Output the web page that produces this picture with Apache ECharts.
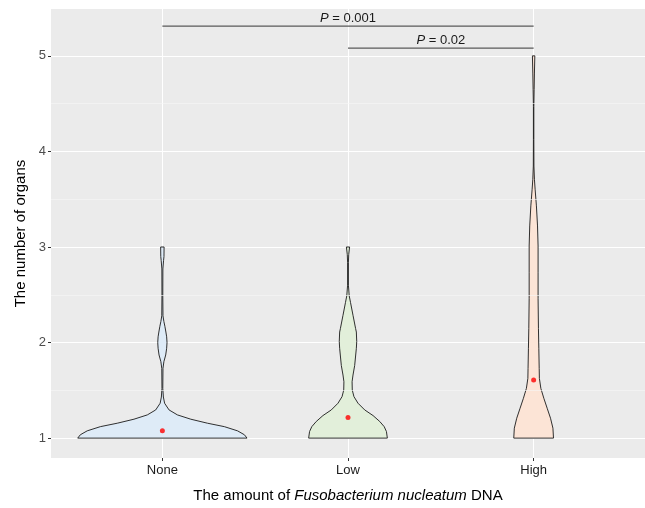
<!DOCTYPE html>
<html>
<head>
<meta charset="utf-8">
<script src="https://cdn.jsdelivr.net/npm/echarts@6/dist/echarts.min.js"></script>
<style>
  html, body { margin: 0; padding: 0; background: #fff; overflow: hidden; }
  #main { width: 645px; height: 508px; }
</style>
</head>
<body>
<div id="main"></div>
<script>
// groups on the x axis
const groups = ['None', 'Low', 'High']
const groupPos = [1, 2, 3]
const groupFill = ['#deebf7', '#e2efda', '#fce4d6']

// violin outlines: y value and half width (in x units)
const noneY = [1.0, 1.035, 1.076, 1.12, 1.156, 1.198, 1.243, 1.295, 1.365, 1.43, 1.52, 1.73, 1.80, 1.87, 1.94, 2.0, 2.06, 2.11, 2.17, 2.22, 2.28, 2.49, 2.77, 2.86, 2.9, 3.0]
const noneW = [0.456, 0.442, 0.405, 0.334, 0.243, 0.153, 0.081, 0.036, 0.012, 0.0054, 0.0022, 0.0032, 0.0081, 0.018, 0.023, 0.025, 0.023, 0.019, 0.0135, 0.0081, 0.0032, 0.0022, 0.0027, 0.0065, 0.0086, 0.0092]
const lowY = [1.0, 1.069, 1.12, 1.174, 1.236, 1.295, 1.365, 1.434, 1.503, 1.59, 1.66, 1.76, 1.94, 2.01, 2.11, 2.146, 2.285, 2.42, 2.49, 2.6, 2.84, 2.92, 3.0]
const lowW = [0.212, 0.207, 0.195, 0.171, 0.135, 0.090, 0.054, 0.032, 0.023, 0.022, 0.027, 0.036, 0.045, 0.047, 0.045, 0.041, 0.027, 0.0135, 0.0065, 0.0022, 0.0022, 0.0038, 0.0086]
const highY = [1.0, 1.104, 1.208, 1.3125, 1.417, 1.52, 1.625, 1.73, 1.94, 2.146, 2.458, 2.736, 3.01, 3.22, 3.43, 3.604, 3.708, 3.847, 4.125, 4.47, 4.646, 4.82, 5.0]
const highW = [0.107, 0.104, 0.091, 0.073, 0.055, 0.039, 0.031, 0.030, 0.028, 0.026, 0.024, 0.024, 0.024, 0.021, 0.015, 0.008, 0.0043, 0.0016, 0.0011, 0.0011, 0.0027, 0.0043, 0.0065]

// group means (red dots)
const groupMean = [1.076, 1.215, 1.607]

// significance brackets
const bracketFrom = [1, 2]
const bracketTo = [3, 3]
const bracketY = [5.31, 5.08]
const bracketP = ['0.001', '0.02']

const yTicks = [1, 2, 3, 4, 5]
const yMinor = [1.5, 2.5, 3.5, 4.5]

const violinY = [noneY, lowY, highY]
const violinW = [noneW, lowW, highW]

const font = 'Liberation Sans, Arial, sans-serif'

const option = {
  backgroundColor: '#fff',
  animation: false,
  grid: {
    left: 51,
    width: 598,
    top: 9,
    bottom: 48,
    show: true,
    backgroundColor: '#ebebeb',
    borderWidth: 0
  },
  xAxis: {
    type: 'value',
    min: 0.4,
    max: 3.6,
    name: 'The amount of {i|Fusobacterium nucleatum} DNA',
    nameLocation: 'middle',
    nameGap: 30,
    nameTextStyle: {
      fontFamily: font,
      fontSize: 15,
      color: '#000',
      rich: {
        i: { fontFamily: font, fontSize: 15, color: '#000', fontStyle: 'italic' }
      }
    },
    axisLine: { show: false },
    axisTick: {
      show: true,
      length: 3,
      customValues: groupPos,
      lineStyle: { color: '#333', width: 1 }
    },
    axisLabel: {
      customValues: groupPos,
      margin: 6,
      fontFamily: font,
      fontSize: 13,
      color: '#1a1a1a',
      formatter: (v) => groups[Math.round(v) - 1]
    },
    splitLine: { show: true, lineStyle: { color: '#fff', width: 1 } }
  },
  yAxis: {
    type: 'value',
    min: 0.792,
    max: 5.49,
    name: 'The number of organs',
    nameLocation: 'middle',
    nameGap: 22,
    nameTextStyle: { fontFamily: font, fontSize: 15, color: '#000' },
    axisLine: { show: false },
    axisTick: {
      show: true,
      length: 3,
      customValues: yTicks,
      lineStyle: { color: '#333', width: 1 }
    },
    axisLabel: {
      customValues: yTicks,
      margin: 5,
      fontFamily: font,
      fontSize: 13,
      color: '#4d4d4d'
    },
    splitLine: { show: true, lineStyle: { color: '#fff', width: 1.1 } }
  },
  series: [
    {
      // minor grid lines
      type: 'line',
      data: [],
      silent: true,
      z: 1,
      markLine: {
        silent: true,
        symbol: 'none',
        label: { show: false },
        lineStyle: { color: '#f7f7f7', width: 0.6, type: 'solid' },
        data: yMinor.map(v => ({ yAxis: v }))
      }
    },
    {
      type: 'custom',
      z: 2,
      data: groupPos.map((x, i) => [x, violinY[i][0]]),
      encode: { x: 0, y: 1 },
      renderItem: (params, api) => {
        const i = params.dataIndex
        const x = api.value(0)
        const ys = violinY[i]
        const ws = violinW[i]
        const pts = []
        for (let k = 0; k < ys.length; k++) pts.push(api.coord([x + ws[k], ys[k]]))
        for (let k = ys.length - 1; k >= 0; k--) pts.push(api.coord([x - ws[k], ys[k]]))
        return {
          type: 'polygon',
          shape: { points: pts },
          style: { fill: groupFill[i], stroke: '#1a1a1a', lineWidth: 0.9 }
        }
      }
    },
    {
      type: 'scatter',
      z: 3,
      symbolSize: 5,
      itemStyle: { color: '#ff0000' },
      data: groupPos.map((x, i) => [x, groupMean[i]])
    },
    {
      type: 'custom',
      z: 4,
      data: bracketY.map((y, i) => [bracketFrom[i], y]),
      encode: { x: 0, y: 1 },
      renderItem: (params, api) => {
        const i = params.dataIndex
        const a = api.coord([bracketFrom[i], bracketY[i]])
        const b = api.coord([bracketTo[i], bracketY[i]])
        return {
          type: 'group',
          children: [
            {
              type: 'line',
              shape: { x1: a[0], y1: a[1], x2: b[0], y2: b[1] },
              style: { stroke: '#5a5a5a', lineWidth: 1.2 }
            },
            {
              type: 'text',
              x: (a[0] + b[0]) / 2,
              y: a[1] - 1,
              style: {
                text: '{i|P} = ' + bracketP[i],
                align: 'center',
                verticalAlign: 'bottom',
                fontFamily: font,
                fontSize: 13,
                fill: '#1a1a1a',
                rich: {
                  i: { fontFamily: font, fontSize: 13, fontStyle: 'italic', fill: '#1a1a1a' }
                }
              }
            }
          ]
        }
      }
    }
  ]
}

const myChart = echarts.init(document.getElementById('main'))
myChart.setOption(option)
</script>
</body>
</html>
